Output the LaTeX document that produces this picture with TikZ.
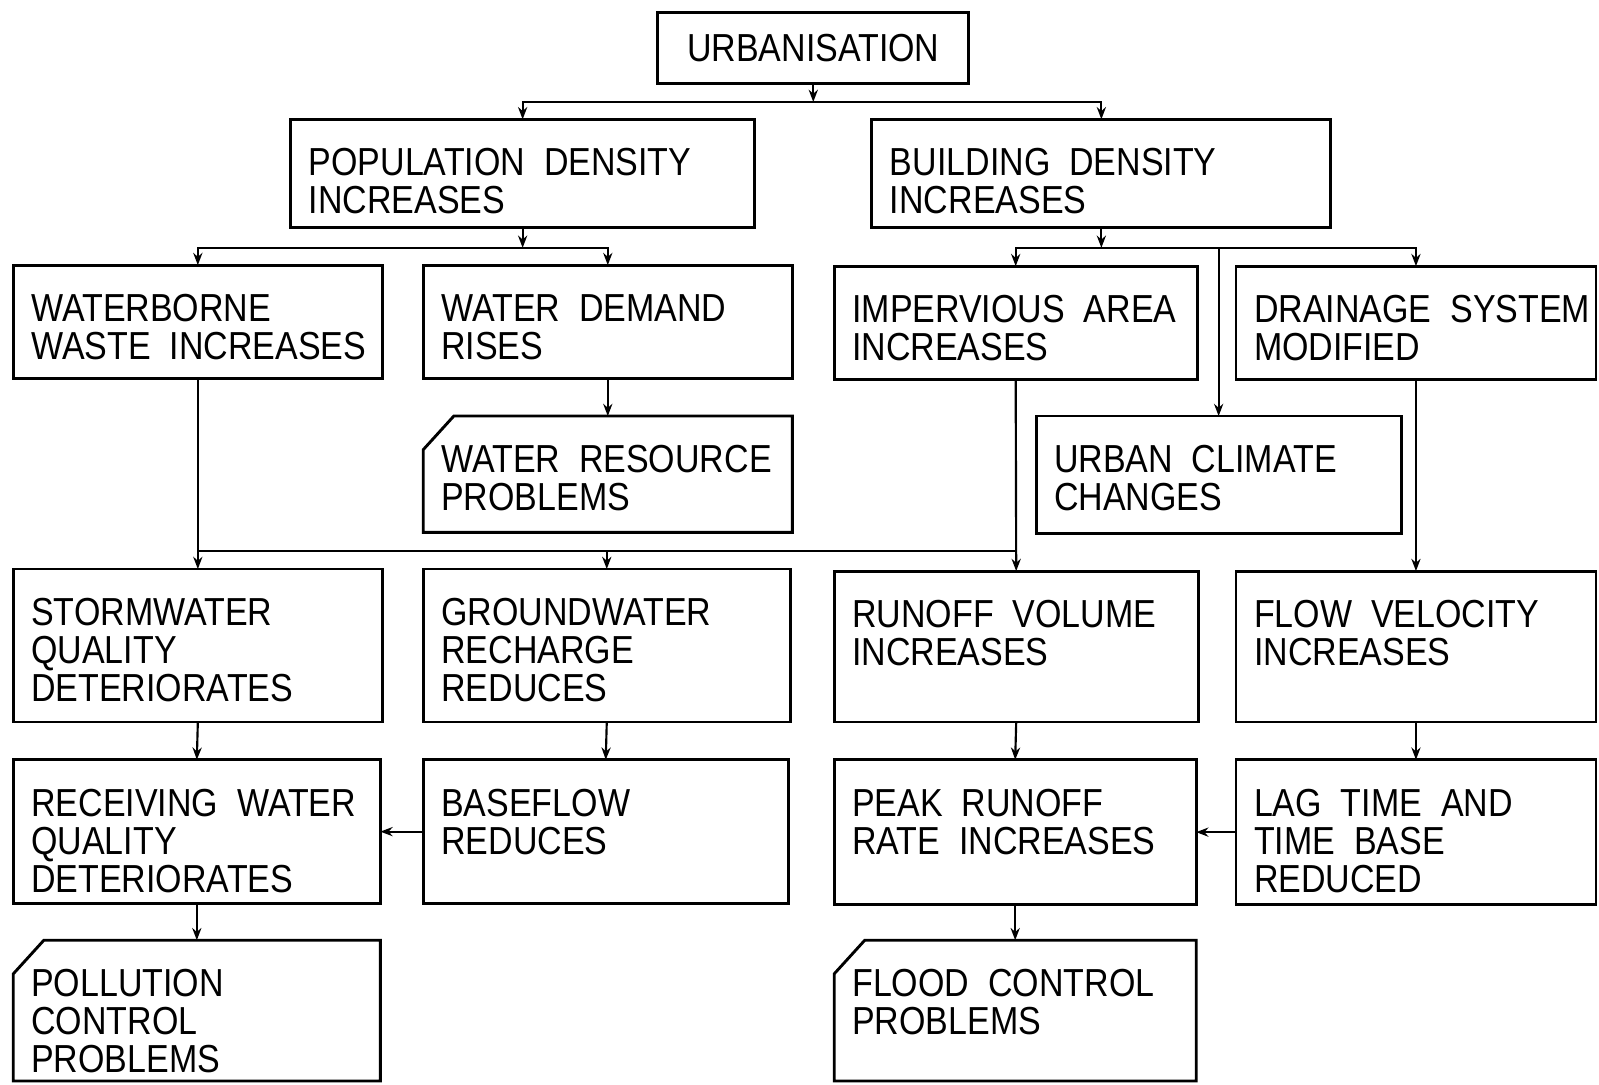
\documentclass[tikz,border=0pt]{standalone}
\usepackage{fontspec}
\setmainfont{Liberation Sans}[FakeStretch=0.87, WordSpace=2]
\usetikzlibrary{
	arrows.meta,
	positioning
}
\newcommand{\lbl}{\fontsize{10.9}{10.6}\selectfont}

\begin{document}
\begin{tikzpicture}[
				cell/.style={draw, thick, anchor=north west, inner sep=0pt, outer sep=0pt},
				prob/.style={cell, draw=none},
				wh/.style 2 args={minimum width=#1cm, minimum height=#2cm},
				txt/.style={anchor=north west, align=left, inner sep=0pt, xshift=0.17cm, yshift=-0.28cm, font=\lbl},
				link/.style={semithick, -{Stealth[length=1.2mm, width=0.9mm]}},
				bus/.style={semithick}
			]
				\useasboundingbox (0,0) rectangle (15.68,-10.63);

				% 顶层
				\node[cell, wh={3.05}{0.70}, font=\lbl] (urban) at (6.45,-0.12) {URBANISATION};

				% 第二层
				\node[cell, wh={4.55}{1.06}, label={[txt]north west:{POPULATION DENSITY\\INCREASES}}] (pop) at (2.85,-1.17) {};
				\node[cell, wh={4.50}{1.06}, label={[txt]north west:{BUILDING DENSITY\\INCREASES}}] (bld) at (8.55,-1.17) {};

				% 第三层
				\node[cell, wh={3.62}{1.11}, label={[txt]north west:{WATERBORNE\\WASTE INCREASES}}] (waste) at (0.13,-2.60) {};
				\node[cell, wh={3.62}{1.11}, label={[txt]north west:{WATER DEMAND\\RISES}}] (dem) at (4.15,-2.60) {};
				\node[cell, wh={3.56}{1.11}, label={[txt]north west:{IMPERVIOUS AREA\\INCREASES}}] (imp) at (8.18,-2.61) {};
				\node[cell, wh={3.53}{1.11}, label={[txt]north west:{DRAINAGE SYSTEM\\MODIFIED}}] (drain) at (12.12,-2.61) {};

				\node[prob, wh={3.62}{1.14}, label={[txt]north west:{WATER RESOURCE\\PROBLEMS}}] (wres) at (4.15,-4.08) {};
				\node[cell, wh={3.58}{1.15}, label={[txt]north west:{URBAN CLIMATE\\CHANGES}}] (clim) at (10.16,-4.08) {};

				% 第四层
				\node[cell, wh={3.62}{1.50}, label={[txt]north west:{STORMWATER\\QUALITY\\DETERIORATES}}] (storm) at (0.13,-5.58) {};
				\node[cell, wh={3.60}{1.50}, label={[txt]north west:{GROUNDWATER\\RECHARGE\\REDUCES}}] (gw) at (4.15,-5.58) {};
				\node[cell, wh={3.57}{1.48}, label={[txt]north west:{RUNOFF VOLUME\\INCREASES}}] (run) at (8.18,-5.60) {};
				\node[cell, wh={3.53}{1.48}, label={[txt]north west:{FLOW VELOCITY\\INCREASES}}] (flow) at (12.12,-5.60) {};

				% 第五层
				\node[cell, wh={3.60}{1.41}, label={[txt]north west:{RECEIVING WATER\\QUALITY\\DETERIORATES}}] (recv) at (0.13,-7.45) {};
				\node[cell, wh={3.58}{1.41}, label={[txt]north west:{BASEFLOW\\REDUCES}}] (base) at (4.15,-7.45) {};
				\node[cell, wh={3.55}{1.42}, label={[txt]north west:{PEAK RUNOFF\\RATE INCREASES}}] (peak) at (8.18,-7.45) {};
				\node[cell, wh={3.53}{1.42}, label={[txt]north west:{LAG TIME AND\\TIME BASE\\REDUCED}}] (lag) at (12.12,-7.45) {};

				% 问题框
				\node[prob, wh={3.60}{1.38}, label={[txt]north west:{POLLUTION\\CONTROL\\PROBLEMS}}] (poll) at (0.13,-9.22) {};
				\node[prob, wh={3.55}{1.38}, label={[txt]north west:{FLOOD CONTROL\\PROBLEMS}}] (flood) at (8.18,-9.22) {};

				% 切角
				\foreach \n in {wres, poll, flood}
					\draw[thick] ([yshift=-0.33cm]\n.north west) -- ([xshift=0.30cm]\n.north west)
						-- (\n.north east) -- (\n.south east) -- (\n.south west) -- cycle;

				% 分支点
				\coordinate (ju) at ([yshift=-0.18cm]urban.south);
				\coordinate (jp) at ([yshift=-0.20cm]pop.south);
				\coordinate (jb) at ([yshift=-0.20cm]bld.south);
				\coordinate (jl) at (0,-5.40);

				% 连线
				\draw[link] (urban.south) -- (ju);
				\draw[link] (ju) -| (pop.north);
				\draw[link] (ju) -| (bld.north);

				\draw[link] (pop.south) -- (jp);
				\draw[link] (jp) -| (waste.north);
				\draw[link] (jp) -| (dem.north);

				\draw[link] (bld.south) -- (jb);
				\draw[link] (jb) -| (imp.north);
				\draw[link] (jb) -| (drain.north);
				\draw[link] (clim.north |- jb) -- (clim.north);

				\draw[link] (dem.south) -- (wres.north);

				\draw[bus] (waste.south) -- (waste.south |- jl) -- (imp.south |- jl);
				\draw[link] (waste.south |- jl) -- (storm.north);
				\draw[link] (gw.north |- jl) -- (gw.north);
				\draw[link] (imp.south) -- (run.north);
				\draw[link] (drain.south) -- (flow.north);

				\draw[link] (storm.south) -- (recv.north);
				\draw[link] (gw.south) -- (base.north);
				\draw[link] (run.south) -- (peak.north);
				\draw[link] (flow.south) -- (lag.north);

				\draw[link] (base.west) -- (recv.east);
				\draw[link] (lag.west) -- (peak.east);

				\draw[link] (recv.south) -- (poll.north);
				\draw[link] (peak.south) -- (flood.north);
			\end{tikzpicture}
\end{document}
